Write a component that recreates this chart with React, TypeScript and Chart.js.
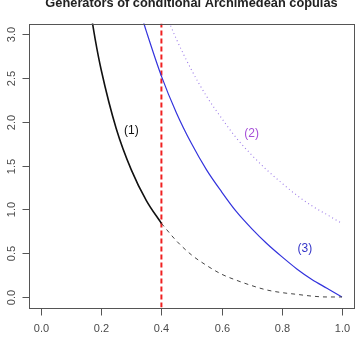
import React, { useEffect, useRef } from "react";
import { Chart, registerables } from "chart.js";

Chart.register(...registerables);

// Generator (1): solid part up to the cut, dashed beyond it
const gen1SolidX = [0.16, 0.18, 0.2, 0.25, 0.3, 0.35, 0.4];
const gen1SolidY = [3.36, 2.94, 2.59, 1.92, 1.45, 1.1, 0.84];
const gen1DashX = [0.4, 0.45, 0.5, 0.55, 0.6, 0.65, 0.7, 0.75, 0.8, 0.85, 0.9, 0.95, 1.0];
const gen1DashY = [0.84, 0.64, 0.48, 0.36, 0.26, 0.19, 0.13, 0.08, 0.05, 0.03, 0.01, 0.0, 0.0];

// Generator (2)
const gen2X = [0.42, 0.45, 0.5, 0.55, 0.6, 0.65, 0.7, 0.75, 0.8, 0.85, 0.9, 0.95, 1.0];
const gen2Y = [3.18, 2.94, 2.59, 2.29, 2.04, 1.81, 1.62, 1.45, 1.3, 1.16, 1.04, 0.94, 0.84];

// Generator (3)
const gen3X = [0.34, 0.35, 0.4, 0.45, 0.5, 0.55, 0.6, 0.65, 0.7, 0.75, 0.8, 0.85, 0.9, 0.95, 1.0];
const gen3Y = [3.14, 3.03, 2.52, 2.1, 1.75, 1.45, 1.2, 0.97, 0.78, 0.61, 0.46, 0.32, 0.2, 0.1, 0.0];

// Conditioning cut-off
const cutX = 0.4;

const xTicks = [0.0, 0.2, 0.4, 0.6, 0.8, 1.0];
const yTicks = [0.0, 0.5, 1.0, 1.5, 2.0, 2.5, 3.0];
const xRange = [-0.04, 1.04];
const yRange = [-0.12, 3.12];

const titleText = "Generators of conditional Archimedean copulas";
const curveLabels = [
  { text: "(1)", x: 0.3, y: 1.9, color: "#111111" },
  { text: "(2)", x: 0.7, y: 1.86, color: "#A64FD8" },
  { text: "(3)", x: 0.877, y: 0.55, color: "#3434C8" },
];

const pts = (xs: number[], ys: number[]) => xs.map((x, i) => ({ x, y: ys[i] }));

const FONT = "'Liberation Sans', Arial, Helvetica, sans-serif";

const framePlugin = {
  id: "frame",
  afterDraw(chart: any) {
    const { ctx, chartArea } = chart;
    const xs = chart.scales.x;
    const ys = chart.scales.y;
    ctx.save();
    // box
    ctx.strokeStyle = "#555555";
    ctx.lineWidth = 1;
    ctx.strokeRect(
      Math.round(chartArea.left) + 0.5,
      Math.round(chartArea.top) + 0.5,
      Math.round(chartArea.right - chartArea.left),
      Math.round(chartArea.bottom - chartArea.top)
    );
    // x axis ticks
    ctx.fillStyle = "#4a4a4a";
    ctx.font = `11px ${FONT}`;
    ctx.textAlign = "center";
    ctx.textBaseline = "middle";
    const by = Math.round(chartArea.bottom) + 0.5;
    xTicks.forEach((v) => {
      const px = Math.round(xs.getPixelForValue(v)) + 0.5;
      ctx.beginPath();
      ctx.moveTo(px, by);
      ctx.lineTo(px, by + 7);
      ctx.stroke();
      ctx.fillText(v.toFixed(1), px, 329);
    });
    // y axis ticks
    const lx = Math.round(chartArea.left) + 0.5;
    yTicks.forEach((v) => {
      const py = Math.round(ys.getPixelForValue(v)) + 0.5;
      ctx.beginPath();
      ctx.moveTo(lx, py);
      ctx.lineTo(lx - 7, py);
      ctx.stroke();
      ctx.save();
      ctx.translate(12, py);
      ctx.rotate(-Math.PI / 2);
      ctx.fillText(v.toFixed(1), 0, 0);
      ctx.restore();
    });
    // curve labels
    ctx.font = `12px ${FONT}`;
    curveLabels.forEach((l) => {
      ctx.fillStyle = l.color;
      ctx.fillText(l.text, xs.getPixelForValue(l.x), ys.getPixelForValue(l.y));
    });
    // title
    ctx.fillStyle = "#222222";
    ctx.font = `bold 12.8px ${FONT}`;
    ctx.textBaseline = "alphabetic";
    ctx.fillText(titleText, (chartArea.left + chartArea.right) / 2, 6.5);
    ctx.restore();
  },
};

export default function App() {
  const ref = useRef<HTMLCanvasElement | null>(null);

  useEffect(() => {
    if (!ref.current) return;
    const chart = new Chart(ref.current, {
      type: "scatter",
      data: {
        datasets: [
          {
            data: pts(gen1SolidX, gen1SolidY),
            showLine: true,
            borderColor: "#111111",
            borderWidth: 1.6,
            pointRadius: 0,
            cubicInterpolationMode: "monotone",
          },
          {
            data: pts(gen1DashX, gen1DashY),
            showLine: true,
            borderColor: "#444444",
            borderWidth: 1,
            borderDash: [4, 4],
            pointRadius: 0,
            cubicInterpolationMode: "monotone",
          },
          {
            data: pts(gen2X, gen2Y),
            showLine: true,
            borderColor: "#9C7AE8",
            borderWidth: 1.1,
            borderDash: [1, 3],
            pointRadius: 0,
            cubicInterpolationMode: "monotone",
          },
          {
            data: pts(gen3X, gen3Y),
            showLine: true,
            borderColor: "#3333DD",
            borderWidth: 1.2,
            pointRadius: 0,
            cubicInterpolationMode: "monotone",
          },
          {
            data: [
              { x: cutX, y: yRange[0] },
              { x: cutX, y: yRange[1] },
            ],
            showLine: true,
            borderColor: "#F02020",
            borderWidth: 2,
            borderDash: [5, 3],
            pointRadius: 0,
          },
        ],
      },
      options: {
        animation: false,
        responsive: false,
        maintainAspectRatio: false,
        layout: { padding: { left: 29, right: 6, top: 23.5, bottom: 38.5 } },
        plugins: { legend: { display: false }, tooltip: { enabled: false }, title: { display: false } },
        scales: {
          x: { type: "linear", min: xRange[0], max: xRange[1], display: false },
          y: { type: "linear", min: yRange[0], max: yRange[1], display: false },
        },
      },
      plugins: [framePlugin],
    });
    return () => chart.destroy();
  }, []);

  return (
    <div style={{ position: "fixed", left: 0, top: 0, width: 360, height: 346, background: "#ffffff" }}>
      <canvas ref={ref} width={360} height={346} style={{ width: 360, height: 346 }} />
    </div>
  );
}
